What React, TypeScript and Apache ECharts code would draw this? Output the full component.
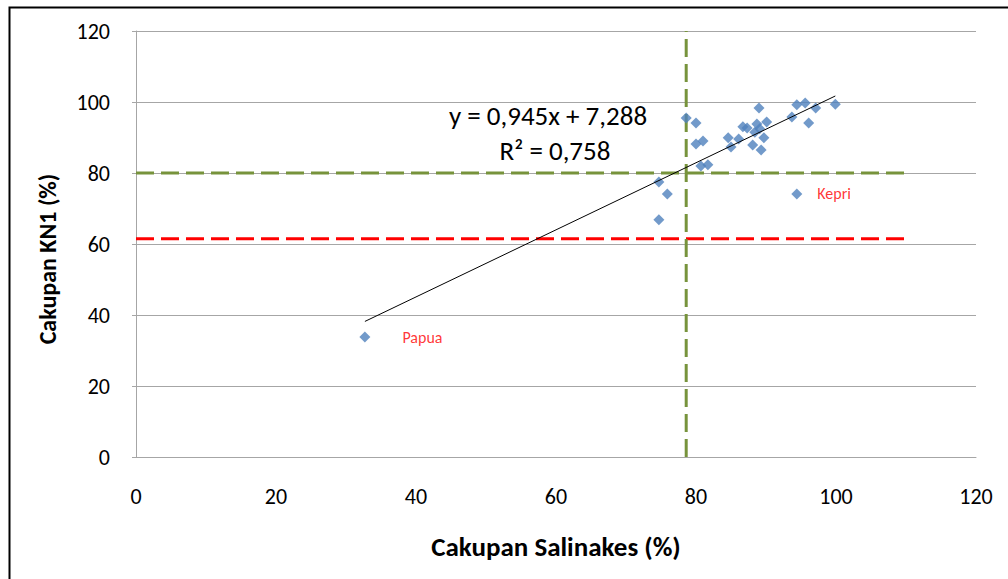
import React, { useEffect, useRef } from "react";
import * as echarts from "echarts";

// Data
const salinakes = [32.7, 94.4, 74.7, 75.9, 74.7, 78.6, 80.0, 80.0, 81.0, 80.7, 81.7, 84.6, 85.0, 86.1, 86.7, 87.3, 89.0, 88.7, 90.1, 89.7, 88.1, 89.3, 88.4, 89.1, 93.7, 94.4, 95.6, 97.1, 96.1, 99.9];
const kn1 = [33.8, 74.1, 77.5, 74.1, 66.8, 95.5, 94.1, 88.2, 89.0, 82.0, 82.3, 89.9, 87.3, 89.6, 93.0, 92.7, 98.3, 93.8, 94.4, 89.9, 87.9, 86.5, 91.5, 92.5, 95.8, 99.2, 99.7, 98.3, 94.1, 99.4];
const pointLabels = ["Papua", "Kepri"];
const pointLabelDistance = [32, 15];

const trendSlope = 0.945;
const trendIntercept = 7.288;
const equationText = "y = 0,945x + 7,288";
const r2Text = "R² = 0,758";

const targetKN1 = 80;
const targetSalinakes = 78.6;
const nationalKN1 = 61.5;
const refLineEnd = 110;

const axisMin = 0;
const axisMax = 120;
const axisInterval = 20;

const FONT = "Carlito, Calibri, Lato, sans-serif";

export default function App() {
  const ref = useRef<HTMLDivElement>(null);

  useEffect(() => {
    document.body.style.margin = "0";
    if (!ref.current) return;
    const chart = echarts.init(ref.current, undefined, { renderer: "svg" });

    const xMin = Math.min(...salinakes);
    const xMax = Math.max(...salinakes);
    const trend = [
      [xMin, trendSlope * xMin + trendIntercept],
      [xMax, trendSlope * xMax + trendIntercept],
    ];

    const scatterData = salinakes.map((x, i) => {
      const item: any = { value: [x, kn1[i]] };
      if (pointLabels[i]) {
        item.label = {
          show: true,
          formatter: pointLabels[i],
          position: "right",
          distance: pointLabelDistance[i],
          color: "#FF0000",
          fontSize: 16,
          fontFamily: FONT,
        };
      }
      return item;
    });

    const dashed = (color: string) => ({
      color,
      width: 3,
      type: [18, 7] as any,
    });

    chart.setOption({
      animation: false,
      backgroundColor: "#ffffff",
      grid: { left: 136, right: 32, top: 31, bottom: 122 },
      xAxis: {
        type: "value",
        min: axisMin,
        max: axisMax,
        interval: axisInterval,
        name: "Cakupan Salinakes (%)",
        nameLocation: "middle",
        nameGap: 76,
        nameTextStyle: { fontFamily: FONT, fontSize: 27, fontWeight: "bold", color: "#000" },
        axisLine: { show: true, lineStyle: { color: "#A6A6A6", width: 1 } },
        axisTick: { show: false },
        axisLabel: { margin: 28, fontFamily: FONT, fontSize: 22, color: "#000" },
        splitLine: { show: false },
      },
      yAxis: {
        type: "value",
        min: axisMin,
        max: axisMax,
        interval: axisInterval,
        axisLine: { show: true, lineStyle: { color: "#A6A6A6", width: 1 } },
        axisTick: { show: true, length: 4, lineStyle: { color: "#A6A6A6" } },
        axisLabel: { margin: 26, fontFamily: FONT, fontSize: 22, color: "#000" },
        splitLine: { show: true, lineStyle: { color: "#A6A6A6", width: 1 } },
      },
      graphic: [
        {
          type: "rect",
          left: 7,
          top: 5,
          shape: { width: 1010, height: 600 },
          style: { fill: "none", stroke: "#000", lineWidth: 2 },
          silent: true,
        },
        {
          type: "text",
          x: 47,
          y: 259,
          rotation: Math.PI / 2,
          style: {
            text: "Cakupan KN1 (%)",
            fontFamily: FONT,
            fontSize: 24,
            fontWeight: "bold",
            fill: "#000",
            align: "center",
            verticalAlign: "middle",
          },
        },
        {
          type: "text",
          x: 548,
          y: 115,
          style: {
            text: equationText,
            fontFamily: FONT,
            fontSize: 27,
            fill: "#000",
            align: "center",
            verticalAlign: "middle",
          },
        },
        {
          type: "text",
          x: 555,
          y: 150,
          style: {
            text: r2Text,
            fontFamily: FONT,
            fontSize: 27,
            fill: "#000",
            align: "center",
            verticalAlign: "middle",
          },
        },
      ],
      series: [
        {
          type: "line",
          data: [[axisMin, nationalKN1], [refLineEnd, nationalKN1]],
          symbol: "none",
          lineStyle: dashed("#FF0000"),
          z: 1,
        },
        {
          type: "line",
          data: [[axisMin, targetKN1], [refLineEnd, targetKN1]],
          symbol: "none",
          lineStyle: dashed("#77933C"),
          z: 1,
        },
        {
          type: "line",
          data: [[targetSalinakes, axisMin], [targetSalinakes, axisMax]],
          symbol: "none",
          lineStyle: dashed("#77933C"),
          z: 1,
        },
        {
          type: "scatter",
          data: scatterData,
          symbol: "diamond",
          symbolSize: 11,
          itemStyle: { color: "#4F81BD" },
          z: 3,
        },
        {
          type: "line",
          data: trend,
          symbol: "none",
          lineStyle: { color: "#000", width: 1 },
          z: 4,
        },
      ],
    });

    return () => chart.dispose();
  }, []);

  return <div ref={ref} style={{ width: 1008, height: 579 }} />;
}
